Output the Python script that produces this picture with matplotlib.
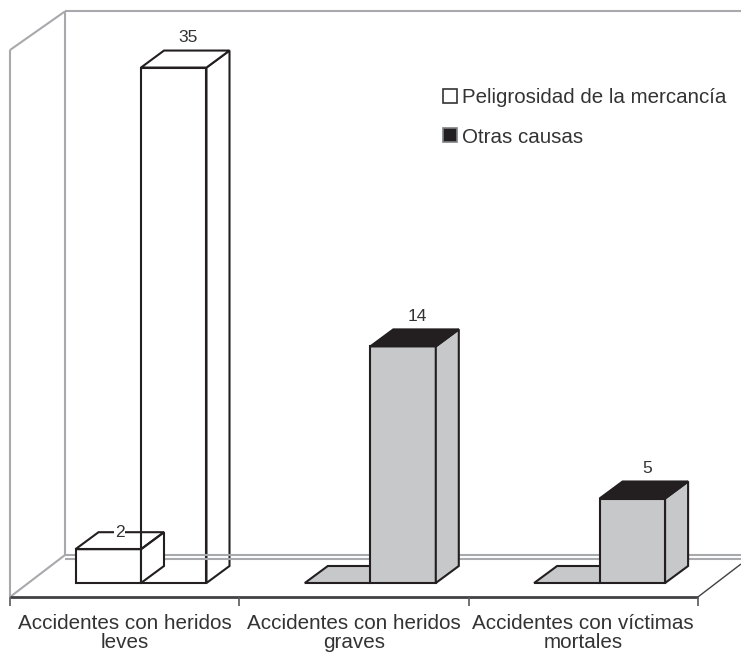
import matplotlib
matplotlib.use('Agg')
import matplotlib.pyplot as plt
from matplotlib.patches import Polygon, Patch

plt.rcParams['font.family'] = ['Liberation Sans', 'DejaVu Sans']

# Data
categories = ['Accidentes con heridos\nleves', 'Accidentes con heridos\ngraves', 'Accidentes con víctimas\nmortales']
series_names = ['Peligrosidad de la mercancía', 'Otras causas']
peligrosidad = [2, 0, 0]
otras_causas = [35, 14, 5]
y_limit = 30.5   # value axis stops here, the 35 bar is cut off

# Colours
white, gray, black = 'white', '#c6c8ca', '#231f20'
wall_color = '#a7a9ac'
front_colors = [white, gray, gray]
top_colors = [white, black, black]

# Scales: 229.3 px per category, 16.9 px per value unit, value 0 at y=583 px
fig = plt.figure(figsize=(7.41, 6.52), dpi=100)
ax = fig.add_axes([0, 0, 1, 1])
x_px, y_px = 229.3, 16.9
ax.set_xlim(-10 / x_px, 731 / x_px)
ax.set_ylim((583 - 652) / y_px, 583 / y_px)
ax.axis('off')

bar_w = 65.5 / x_px
bar_dx, bar_dy = 23 / x_px, 17 / y_px      # depth of a bar
floor_y = -14 / y_px                       # front edge of floor
floor_dx, floor_dy = 55 / x_px, 42 / y_px  # depth of floor
wall_h = 547 / y_px


def line(xs, ys, color=wall_color, lw=1.5, z=2):
    ax.plot(xs, ys, color=color, lw=lw, zorder=z, solid_capstyle='butt')


def box(x, value, front, top, z, top_fill=True):
    h = min(value, y_limit)
    if h > 0:
        ax.add_patch(Polygon([(x, 0), (x + bar_w, 0), (x + bar_w, h), (x, h)], fc=front, ec=black, lw=1.5, zorder=z))
        ax.add_patch(Polygon([(x + bar_w, 0), (x + bar_w + bar_dx, bar_dy), (x + bar_w + bar_dx, h + bar_dy), (x + bar_w, h)],
                             fc=front, ec=black, lw=1.5, zorder=z))
    ax.add_patch(Polygon([(x, h), (x + bar_w, h), (x + bar_w + bar_dx, h + bar_dy), (x + bar_dx, h + bar_dy)],
                         fc=top if top_fill else 'none', ec=black, lw=1.5, zorder=z))


# Walls and floor
line([0, 0], [floor_y, floor_y + wall_h])
line([0, floor_dx], [floor_y + wall_h, floor_y + wall_h + floor_dy - 0.2])
line([floor_dx, floor_dx], [floor_y + floor_dy, floor_y + wall_h + floor_dy - 0.2])
line([floor_dx, 731 / x_px], [floor_y + wall_h + floor_dy - 0.2] * 2)
line([0, floor_dx], [floor_y, floor_y + floor_dy])
line([floor_dx, 731 / x_px], [floor_y + floor_dy] * 2, z=2)
line([floor_dx, 731 / x_px], [floor_y + floor_dy - 4 / y_px] * 2, z=2)

# Front edge of floor with category ticks
line([0, 3], [floor_y, floor_y], color='#414042', lw=2, z=4)
for i in range(4):
    line([i, i], [floor_y, floor_y - 9 / y_px], color='#58595b', lw=1.2, z=4)
line([3, 731 / x_px], [floor_y, floor_y + 33 / y_px], color='#414042', lw=1, z=2)

# Bars, first series goes behind the second
for i, cat in enumerate(categories):
    x0 = i + bar_w
    x1 = x0 + bar_w
    box(x0, peligrosidad[i], front_colors[i], top_colors[i] if peligrosidad[i] > 0 else gray, 3,
        top_fill=peligrosidad[i] == 0)
    box(x1, otras_causas[i], front_colors[i], top_colors[i], 1 if i == 0 else 3)
    ax.text(i + 0.5, floor_y - 17 / y_px, cat, ha='center', va='top', fontsize=14.9,
            color='#333333', linespacing=0.98, zorder=5)

    # Value labels
    top = min(otras_causas[i], y_limit)
    ax.text(x1 + (bar_w + bar_dx) / 2 + 3 / x_px, top + bar_dy + 13 / y_px, str(otras_causas[i]),
            ha='center', va='center', fontsize=12.5, color='#333333', zorder=5)
    if peligrosidad[i] > 0:
        ax.text(x0 + (bar_w + bar_dx) / 2, peligrosidad[i] + bar_dy, str(peligrosidad[i]),
                ha='center', va='center', fontsize=12.5, color='#333333', zorder=5,
                bbox=dict(fc='white', ec='none', pad=0.5))

# Legend
handles = [Patch(fc=white, ec='#333333', lw=1.2), Patch(fc=black, ec='#808285', lw=1.2)]
ax.legend(handles, series_names, loc='upper left', bbox_to_anchor=(0.598, 0.865), frameon=False, fontsize=14.8,
          labelcolor='#333333', handlelength=0.68, handleheight=0.68, handletextpad=0.25, labelspacing=1.0,
          borderpad=0, borderaxespad=0)

fig.savefig('out.png', dpi=100)
